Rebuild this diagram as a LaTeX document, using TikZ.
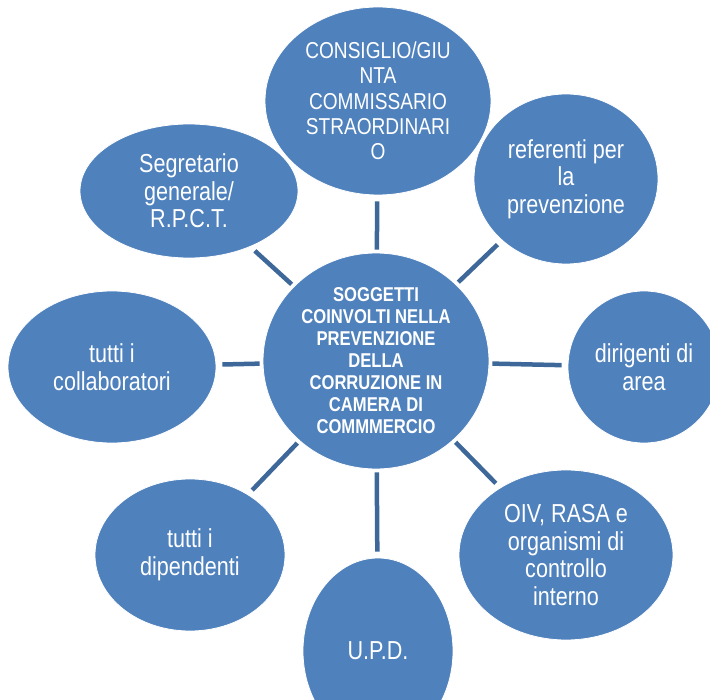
\documentclass[tikz,border=0pt]{standalone}
\usepackage{fontspec}
\setmainfont{Liberation Sans}[FakeStretch=0.83]
\usetikzlibrary{shapes.geometric}

\definecolor{bubblefill}{RGB}{79,129,189}
\definecolor{spokecolor}{RGB}{62,104,154}

\begin{document}
\begin{tikzpicture}[x=1pt,y=-1pt,
  bubble/.style={ellipse, fill=bubblefill, draw=white, line width=0.8pt, inner sep=0pt,
    text=white, align=center, font=\fontsize{26}{27.5}\selectfont},
  hub/.style={bubble, font=\fontsize{20}{22}\selectfont\bfseries},
  spoke/.style={draw=spokecolor, line width=4.5pt, shorten <=3pt, shorten >=6pt},
]

\useasboundingbox (0,0) rectangle (710,700);
\clip (0,0) rectangle (710,700);

\node[hub, minimum width=226pt, minimum height=216pt] (core) at (376,361)
  {SOGGETTI\\COINVOLTI NELLA\\PREVENZIONE\\DELLA\\CORRUZIONE IN\\CAMERA DI\\COMMMERCIO};

\node[bubble, minimum width=226pt, minimum height=188pt, font=\fontsize{23}{25.3}\selectfont] (consiglio) at (378,101)
  {CONSIGLIO/GIU\\NTA\\COMMISSARIO\\STRAORDINARI\\O};
\node[bubble, minimum width=184pt, minimum height=170pt] (referenti) at (566,179) {referenti per\\la\\prevenzione};
\node[bubble, minimum width=152pt, minimum height=152pt] (dirigenti) at (644,367) {dirigenti di\\area};
\node[bubble, minimum width=214pt, minimum height=170pt] (oiv) at (566,555) {OIV, RASA e\\organismi di\\controllo\\interno};
\node[bubble, minimum width=150pt, minimum height=186pt] (upd) at (378,651) {U.P.D.};
\node[bubble, minimum width=190pt, minimum height=152pt] (dipendenti) at (190,555) {tutti i\\dipendenti};
\node[bubble, minimum width=208pt, minimum height=152pt] (collab) at (112,367) {tutti i\\collaboratori};
\node[bubble, minimum width=218pt, minimum height=134pt] (segretario) at (189,191) {Segretario\\generale/\\R.P.C.T.};

\draw[spoke] (core) -- (consiglio);
\draw[spoke] (core) -- (referenti);
\draw[spoke] (core) -- (dirigenti);
\draw[spoke] (core) -- (oiv);
\draw[spoke] (core) -- (upd);
\draw[spoke] (core) -- (dipendenti);
\draw[spoke] (core) -- (collab);
\draw[spoke] (core) -- (segretario);

\end{tikzpicture}
\end{document}
